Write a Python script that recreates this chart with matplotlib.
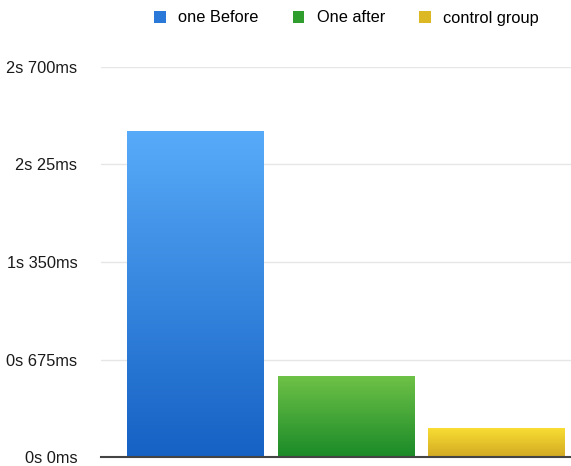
import numpy as np
import matplotlib
matplotlib.use("Agg")
import matplotlib.pyplot as plt
from matplotlib.colors import LinearSegmentedColormap
from matplotlib.patches import Patch

categories = ["one Before", "One after", "control group"]
values_ms = [2255, 562, 200]
tick_values = [0, 675, 1350, 2025, 2700]
tick_labels = ["0s 0ms", "0s 675ms", "1s 350ms", "2s 25ms", "2s 700ms"]

top_colors = ["#58abf9", "#6fc247", "#f8dd33"]
bottom_colors = ["#1561c4", "#1a8a28", "#d2a923"]
legend_colors = ["#2a78d8", "#2f9e2f", "#dcb924"]

plt.rcParams['font.family'] = ['Liberation Sans', 'DejaVu Sans']

fig = plt.figure(figsize=(5.71, 4.66), dpi=100)
ax = fig.add_axes([0.1769, 0.0187, 0.8231, 0.8382])

x = np.arange(len(categories))
width = 0.91
bars = ax.bar(x, values_ms, width=width, color="none", edgecolor="none", zorder=3)

grad = np.linspace(0, 1, 256).reshape(-1, 1)
for bar, ct, cb in zip(bars, top_colors, bottom_colors):
    cmap = LinearSegmentedColormap.from_list("g", [cb, ct])
    x0, y0 = bar.get_x(), bar.get_y()
    w, h = bar.get_width(), bar.get_height()
    im = ax.imshow(grad, cmap=cmap, origin="lower", aspect="auto",
                   extent=[x0, x0 + w, y0, y0 + h], zorder=3)
    im.set_clip_path(bar)

ax.set_xlim(-0.631, 2.492)
ax.set_ylim(0, 2700)
ax.set_yticks(tick_values)
ax.set_yticklabels(tick_labels, fontsize=11.8, color="#1a1a1a")
ax.set_xticks([])
ax.tick_params(axis="y", length=0, pad=17)
ax.yaxis.grid(True, color="#e6e6e6", linewidth=1.0, zorder=0)
ax.set_axisbelow(True)
for s in ["top", "right", "left"]:
    ax.spines[s].set_visible(False)
ax.spines["bottom"].set_color("#444444")
ax.spines["bottom"].set_linewidth(1.5)
ax.spines["bottom"].set_zorder(4)

handles = [Patch(facecolor=c, edgecolor="none", label=l) for c, l in zip(legend_colors, categories)]
fig.legend(handles=handles, loc="center", bbox_to_anchor=(0.607, 1 - 18 / 466),
           ncol=3, frameon=False, fontsize=11.8, handlelength=0.7, handleheight=0.7,
           handletextpad=0.75, columnspacing=2.1, borderpad=0, borderaxespad=0)

fig.savefig("out.png", dpi=100)
